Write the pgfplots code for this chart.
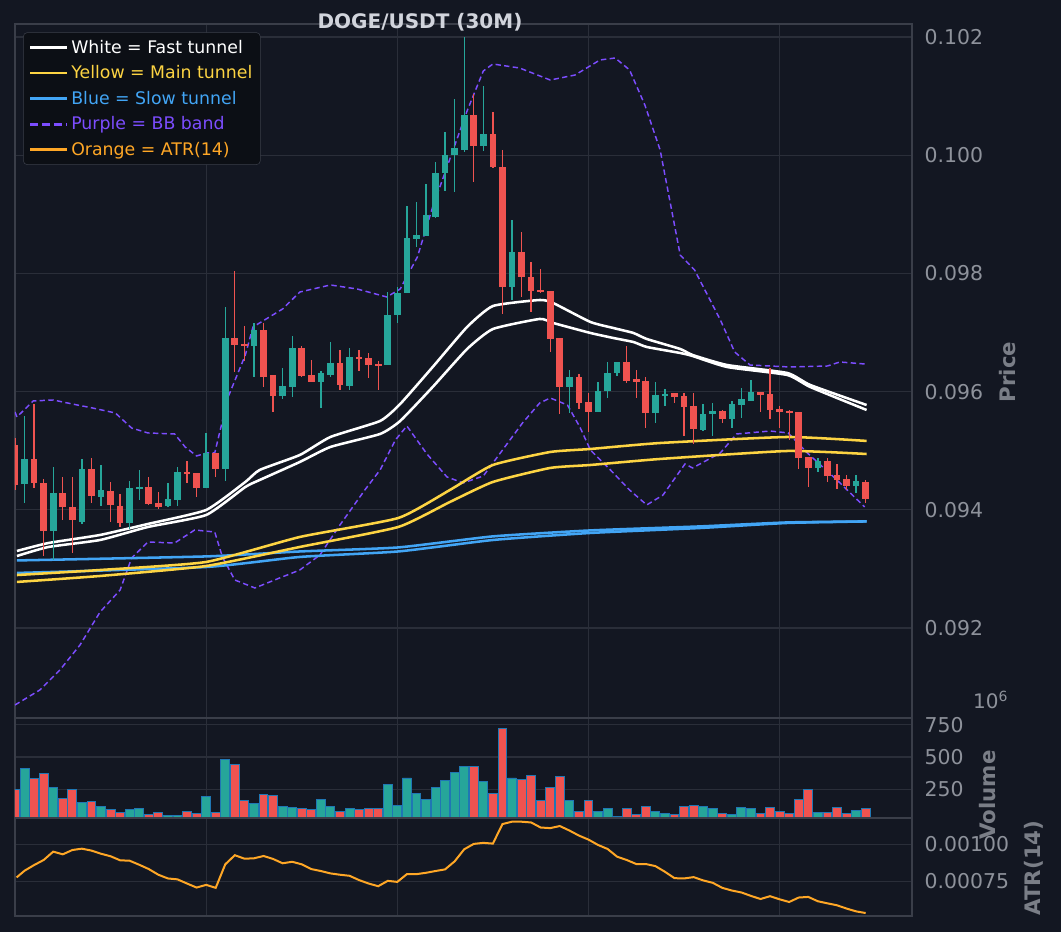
\documentclass[border=0pt]{standalone}
\usepackage{pgfplots}
\pgfplotsset{compat=1.18}
\usepackage{pgfplotstable}
\usepackage{fontspec}
\setmainfont{DejaVu Sans}
\definecolor{bg}{HTML}{131722}
\definecolor{gridc}{HTML}{2A2E39}
\definecolor{frame}{HTML}{3A3E49}
\definecolor{tickc}{HTML}{8E929B}
\definecolor{labc}{HTML}{7A7E87}
\definecolor{tealc}{HTML}{26A69A}
\definecolor{redc}{HTML}{EF5350}
\definecolor{yel}{HTML}{FDD443}
\definecolor{blu}{HTML}{42A5F5}
\definecolor{pur}{HTML}{7C4DFF}
\definecolor{ora}{HTML}{FFA726}
\definecolor{legbg}{HTML}{0C0F15}
\definecolor{edge}{HTML}{1F77B4}
\definecolor{titc}{HTML}{D1D4DC}

\pgfplotstableread{
i o h l c v
1 9443.7 9558.7 9411.5 9486.0 408
4 9364.1 9472.4 9315.1 9428.4 266
7 9379.4 9486.0 9376.0 9469.1 145
9 9421.7 9475.8 9406.4 9433.5 116
12 9377.7 9448.8 9367.5 9436.9 92
13 9435.2 9467.4 9416.6 9438.6 97
16 9406.4 9445.4 9404.8 9418.3 45
17 9416.6 9472.4 9406.4 9464.0 45
20 9436.9 9530.0 9436.9 9495.6 195
22 9469.1 9743.2 9448.8 9690.7 479
25 9677.1 9716.1 9624.7 9704.2 139
28 9592.6 9640.0 9587.5 9609.5 116
29 9607.8 9694.1 9590.9 9673.8 108
32 9616.3 9634.9 9572.3 9631.5 171
33 9628.1 9683.9 9624.7 9648.4 116
35 9609.5 9673.8 9602.7 9658.5 100
39 9645.0 9768.5 9645.0 9729.6 290
40 9729.6 9776.9 9716.1 9766.8 124
41 9766.8 9914.0 9766.8 9859.9 337
42 9858.2 9920.8 9844.7 9864.9 216
43 9863.3 9951.3 9863.3 9898.8 171
44 9895.4 9988.5 9893.7 9969.9 266
45 9969.9 10039.3 9939.4 10000.3 321
46 10000.3 10095.1 9937.7 10012.2 376
47 10008.8 10200.0 10005.4 10068.0 424
49 10015.6 10117.1 10007.1 10035.9 310
52 9777.0 9890.3 9755.0 9836.2 337
58 9607.8 9636.6 9563.8 9624.7 160
61 9565.5 9616.3 9565.5 9601.0 74
62 9601.0 9650.1 9589.2 9631.5 97
63 9631.5 9650.1 9626.4 9650.1 39
67 9563.8 9616.3 9546.9 9594.3 74
68 9592.6 9604.4 9575.6 9596.0 58
72 9535.0 9579.0 9533.3 9562.1 116
73 9562.1 9580.7 9524.9 9567.2 97
75 9553.7 9584.1 9538.4 9579.0 50
76 9577.3 9606.1 9555.3 9587.5 108
77 9584.1 9619.6 9584.1 9599.3 100
84 9470.8 9487.7 9464.0 9482.6 66
88 9440.3 9458.9 9428.4 9448.8 83
}\tealC

\pgfplotstableread{
i o h l c v
0 9509.7 9521.5 9433.5 9442.0 250
2 9486.0 9579.0 9436.9 9445.4 334
3 9445.4 9452.1 9321.8 9364.1 374
5 9428.4 9455.5 9382.8 9404.8 179
6 9404.8 9455.5 9326.9 9382.8 247
8 9469.1 9487.7 9411.5 9423.4 153
10 9431.8 9447.1 9379.4 9408.2 89
11 9406.4 9426.8 9370.9 9377.7 66
14 9438.6 9455.5 9408.2 9409.8 53
15 9411.5 9430.1 9401.4 9404.8 66
18 9464.0 9482.6 9445.4 9460.6 74
19 9462.3 9462.3 9421.7 9436.9 58
21 9495.6 9495.6 9455.5 9469.1 66
23 9690.7 9804.1 9633.2 9678.8 445
24 9680.5 9711.0 9651.8 9677.1 160
26 9704.2 9716.1 9607.8 9624.7 208
27 9628.1 9628.1 9565.5 9592.6 203
30 9673.8 9677.1 9624.7 9626.4 97
31 9628.1 9653.5 9616.3 9616.3 89
34 9648.4 9670.4 9602.7 9611.2 79
36 9658.5 9670.4 9634.9 9655.2 89
37 9656.9 9665.3 9623.0 9645.0 97
38 9646.7 9651.8 9602.7 9645.0 97
48 10068.0 10103.6 9954.7 10015.6 429
50 10035.9 10073.1 9978.3 9980.0 216
51 9980.0 10008.8 9731.3 9777.0 721
53 9836.2 9870.0 9760.1 9793.9 326
54 9793.9 9819.3 9734.7 9770.2 358
55 9771.9 9807.5 9766.8 9768.5 160
56 9770.2 9770.2 9667.0 9688.9 266
57 9690.6 9690.6 9562.1 9607.8 350
59 9624.7 9629.8 9570.6 9580.7 74
60 9582.4 9597.6 9531.7 9565.5 160
64 9650.1 9677.2 9614.6 9618.0 97
65 9621.3 9636.6 9589.2 9616.3 50
66 9618.0 9624.7 9538.4 9563.8 116
69 9597.6 9597.6 9580.7 9590.9 50
70 9592.6 9597.6 9524.9 9574.0 116
71 9575.6 9597.6 9511.4 9536.7 124
74 9567.2 9568.9 9546.9 9553.7 58
78 9599.3 9599.3 9565.5 9594.3 58
79 9596.0 9640.0 9553.7 9568.9 108
80 9570.6 9575.6 9538.4 9565.5 74
81 9567.2 9568.9 9518.1 9563.8 58
82 9565.5 9565.5 9469.1 9487.7 171
83 9489.4 9489.4 9438.6 9470.8 250
85 9482.6 9487.7 9447.1 9457.2 66
86 9458.9 9477.5 9435.2 9450.4 108
87 9452.1 9458.9 9433.5 9440.3 58
89 9447.1 9450.4 9411.5 9418.3 97
}\redC

\pgfplotstableread{
i a
0.17 77.7
1 82.2
2 86.0
3 89.4
4 95.0
5 93.2
6 96.1
7 97.0
8 95.7
9 93.6
10 91.9
11 89.2
12 88.9
13 86.2
14 83.3
15 79.5
16 77.0
17 76.4
18 73.6
19 70.9
20 72.7
21 70.7
22 86.5
23 92.6
24 90.3
25 90.5
26 92.1
27 90.1
28 87.2
29 88.2
30 86.5
31 83.3
32 82.0
33 80.4
34 79.5
35 78.8
36 75.9
37 73.6
38 71.8
39 75.4
40 74.7
41 79.9
42 79.9
43 80.8
44 82.0
45 83.1
46 88.5
47 96.6
48 100.2
49 100.9
50 100.4
51 113.5
52 115.1
53 115.1
54 114.6
55 111.2
56 110.8
57 112.2
58 109.2
59 105.8
60 103.1
61 99.5
62 96.8
63 91.6
64 89.4
65 86.7
66 86.7
67 85.3
68 81.5
69 77.2
70 77.0
71 77.9
72 75.7
73 74.1
74 70.7
75 68.9
76 67.6
77 65.3
78 63.2
79 65.1
80 63.0
81 61.2
82 64.2
83 64.6
84 61.7
85 60.3
86 59.0
87 56.8
88 54.9
89 53.8
}\atr

\pgfplotsset{
  dark/.style={
    scale only axis, anchor=south west,
    xmin=0, xmax=93.85,
    xtick={20,40,60,80}, xticklabels={},
    major tick length=0pt,
    scaled y ticks=false,
    grid=major, grid style={gridc, line width=0.8pt},
    axis line style={frame, line width=1.6pt},
    yticklabel pos=right,
    tick label style={tickc, font=\fontsize{15.3}{18}\selectfont},
    yticklabel style={xshift=6pt},
    /pgf/number format/assume math mode=true,
  },
  wick/.style={draw=none, no markers, forget plot,
    error bars/.cd, y dir=both, y explicit, error mark=none,
    error bar style={draw=#1, line width=1pt}},
  body/.style={draw=none, no markers, forget plot,
    error bars/.cd, y dir=both, y explicit, error mark=none,
    error bar style={draw=#1, line width=5pt}},
}

\begin{document}
\begin{tikzpicture}
\fill[bg] (0,0) rectangle (795.75pt,699pt);

% ---- price ----
\begin{axis}[dark, at={(11.25pt,160.5pt)}, width=672.75pt, height=520.5pt,
  ymin=9047.7, ymax=10222,
  ytick={9200,9400,9600,9800,10000,10200},
  yticklabels={0.092,0.094,0.096,0.098,0.100,0.102},
]
% BB
\addplot[pur, line width=1.1pt, dash pattern=on 4pt off 2.5pt] coordinates {
(0,9565.5)(0.2,9557.0)(1.9,9584.1)(4.0,9585.8)(6.0,9579.0)(8.1,9572.3)(10.5,9563.8)
(12.2,9538.4)(13.9,9530.0)(16.7,9528.3)(17.8,9506.3)(19.0,9491.1)(20.1,9496.2)(20.9,9496.2)
(22.3,9590.9)(24.1,9661.9)(24.9,9709.3)(28.0,9739.8)(29.8,9768.5)(33.0,9780.4)(35.8,9773.6)
(38.9,9760.1)(40.3,9773.6)(42.1,9827.7)(43.7,9912.4)(45.8,10007.1)(47.3,10074.8)(49.0,10142.5)
(50.0,10154.3)(52.8,10147.5)(56.0,10127.2)(58.6,10135.7)(61.2,10161.1)(62.8,10164.5)(64.3,10144.2)
(65.9,10085.0)(67.5,10008.8)(69.6,9831.1)(71.1,9805.8)(73.8,9721.2)(75.3,9667.0)(76.9,9645.0)
(81.1,9641.6)(85.0,9643.3)(86.3,9650.1)(88.9,9646.7)};
\addplot[pur, line width=1.1pt, dash pattern=on 4pt off 2.5pt] coordinates {
(0,9069.7)(2.6,9095.1)(4.7,9128.9)(6.8,9171.2)(8.9,9227.0)(11.0,9264.3)(12.2,9318.4)
(13.9,9345.5)(16.7,9343.8)(18.8,9365.8)(20.9,9362.4)(21.7,9320.2)(23.0,9281.2)(25.1,9267.7)
(27.7,9284.7)(29.8,9298.1)(31.9,9323.5)(34.0,9374.3)(36.6,9433.5)(38.2,9467.4)(39.8,9518.1)
(41.0,9541.8)(43.1,9494.4)(45.2,9455.5)(46.9,9445.4)(49.0,9457.2)(50.7,9494.4)(53.1,9546.9)
(54.9,9580.7)(56.0,9589.2)(57.8,9577.3)(59.1,9540.1)(60.2,9501.2)(62.3,9467.4)(64.3,9433.5)
(66.1,9408.2)(67.8,9425.0)(70.1,9477.5)(70.9,9470.8)(73.8,9496.2)(75.5,9528.3)(79.0,9533.3)
(80.9,9530.0)(82.9,9496.2)(86.0,9450.4)(88.9,9404.8)};
% blue slow tunnel
\addplot[blu, line width=1.9pt, smooth, tension=0.3] coordinates {
(0.2,9314.3)(20,9321.1)(29.8,9329.5)(40.1,9336.3)(50,9355.0)(60.2,9365.1)(71.7,9371.9)(80.8,9378.6)(89.1,9380.3)};
\addplot[blu, line width=1.9pt, smooth, tension=0.3] coordinates {
(0.2,9293.1)(20,9303.2)(29.8,9320.2)(40.1,9329.5)(50,9348.9)(60.2,9360.8)(71.7,9369.2)(80.8,9377.7)(89.1,9380.3)};
% yellow main tunnel
\addplot[yel, line width=1.9pt, smooth, tension=0.3] coordinates {
(0.2,9289.6)(8.9,9298.1)(20,9311.7)(29.8,9354.0)(40.1,9386.1)(45.5,9433.5)(50,9475.8)(56,9497.8)(60.2,9502.9)(67.5,9513.0)(80.8,9523.2)(89.1,9516.5)};
\addplot[yel, line width=1.9pt, smooth, tension=0.3] coordinates {
(0.2,9277.9)(8.9,9288.0)(20,9304.9)(29.8,9337.1)(40.1,9370.9)(45.5,9413.2)(50,9447.1)(56,9470.8)(60.2,9475.8)(67.5,9486.0)(80.8,9499.5)(89.1,9494.4)};
% white fast tunnel
\addplot[white, line width=1.9pt, smooth, tension=0.3] coordinates {
(0.2,9321.8)(3.5,9337.1)(8.9,9348.9)(13.9,9370.9)(20,9391.2)(24.1,9438.6)(25.6,9450.4)(29.8,9480.9)
(33,9506.3)(38.2,9528.3)(40.3,9550.3)(43.7,9607.8)(47.3,9672.1)(50,9705.9)(54.9,9722.9)(56.3,9716.1)
(60.2,9699.2)(62.6,9690.7)(64.7,9683.9)(66.1,9675.5)(69.6,9665.3)(70.9,9660.2)(74.5,9641.6)(80.8,9628.1)(83.2,9607.8)(89.1,9568.9)};
\addplot[white, line width=1.9pt, smooth, tension=0.3] coordinates {
(0.2,9330.3)(3.5,9343.8)(8.9,9357.4)(13.9,9376.0)(20,9399.7)(24.1,9447.1)(25.6,9467.4)(29.8,9492.7)
(33,9523.2)(38.2,9550.3)(40.3,9579.0)(43.7,9641.6)(47.3,9709.3)(50,9744.8)(54.9,9755.0)(56.3,9749.9)
(60.2,9717.8)(62.6,9707.6)(64.7,9699.2)(66.1,9689.0)(69.6,9672.1)(70.9,9661.9)(74.5,9645.0)(80.8,9631.5)(83.2,9611.2)(89.1,9577.3)};
% candles
\addplot[wick=tealc] table[x=i, y expr=(\thisrow{h}+\thisrow{l})/2, y error expr=(\thisrow{h}-\thisrow{l})/2] {\tealC};
\addplot[wick=redc] table[x=i, y expr=(\thisrow{h}+\thisrow{l})/2, y error expr=(\thisrow{h}-\thisrow{l})/2] {\redC};
\addplot[body=tealc] table[x=i, y expr=(\thisrow{o}+\thisrow{c})/2, y error expr={max(abs(\thisrow{c}-\thisrow{o})/2,1.1)}] {\tealC};
\addplot[body=redc] table[x=i, y expr=(\thisrow{o}+\thisrow{c})/2, y error expr={max(abs(\thisrow{c}-\thisrow{o})/2,1.1)}] {\redC};
\end{axis}

% legend
\begin{axis}[at={(11.25pt,160.5pt)}, anchor=south west, width=672.75pt, height=520.5pt, scale only axis,
  hide axis, xmin=0, xmax=1, ymin=0, ymax=1,
  legend style={at={(0.009,0.988)}, anchor=north west, fill=legbg, draw=frame,
    rounded corners=3pt, font=\fontsize{13}{15}\selectfont, row sep=3.8pt,
    inner xsep=4pt, inner ysep=3.5pt, legend cell align=left},
  legend image code/.code={\draw[#1] (0pt,0pt) -- (28pt,0pt);},
]
\addlegendimage{white, line width=2pt}
\addlegendentry{\textcolor{white}{White = Fast tunnel}}
\addlegendimage{yel, line width=2pt}
\addlegendentry{\textcolor{yel}{Yellow = Main tunnel}}
\addlegendimage{blu, line width=2pt}
\addlegendentry{\textcolor{blu}{Blue = Slow tunnel}}
\addlegendimage{pur, line width=2pt, dash pattern=on 6pt off 3pt}
\addlegendentry{\textcolor{pur}{Purple = BB band}}
\addlegendimage{ora, line width=2pt}
\addlegendentry{\textcolor{ora}{Orange = ATR(14)}}
\end{axis}

% ---- volume ----
\begin{axis}[dark, at={(11.25pt,85.5pt)}, width=672.75pt, height=75pt,
  ymin=26, ymax=803, ytick={250,500,750},
  yticklabels={250,500,750}]
\addplot[ybar, bar width=0.93, bar shift=0pt, fill=tealc, draw=edge, line width=0.7pt] table[x=i, y=v] {\tealC};
\addplot[ybar, bar width=0.93, bar shift=0pt, fill=redc, draw=edge, line width=0.7pt] table[x=i, y=v] {\redC};
\end{axis}

% ---- ATR ----
\begin{axis}[dark, at={(11.25pt,12pt)}, width=672.75pt, height=73.5pt,
  ymin=51.8, ymax=117.6, ytick={75,100},
  yticklabels={0.00075,0.00100}]
\addplot[ora, line width=1.5pt] table[x=i, y=a] {\atr};
\end{axis}

% labels
\node[titc, font=\bfseries\fontsize{15}{18}\selectfont] at (315pt,682pt) {DOGE/USDT (30M)};
\node[labc, rotate=90, font=\bfseries\fontsize{16}{19}\selectfont] at (756pt,420pt) {Price};
\node[labc, rotate=90, font=\bfseries\fontsize{16}{19}\selectfont] at (741pt,102.75pt) {Volume};
\node[labc, rotate=90, font=\bfseries\fontsize{16}{19}\selectfont] at (775pt,48pt) {ATR(14)};
\node[tickc, font=\fontsize{15}{17}\selectfont] at (743pt,174pt) {10\textsuperscript{6}};
\end{tikzpicture}
\end{document}
